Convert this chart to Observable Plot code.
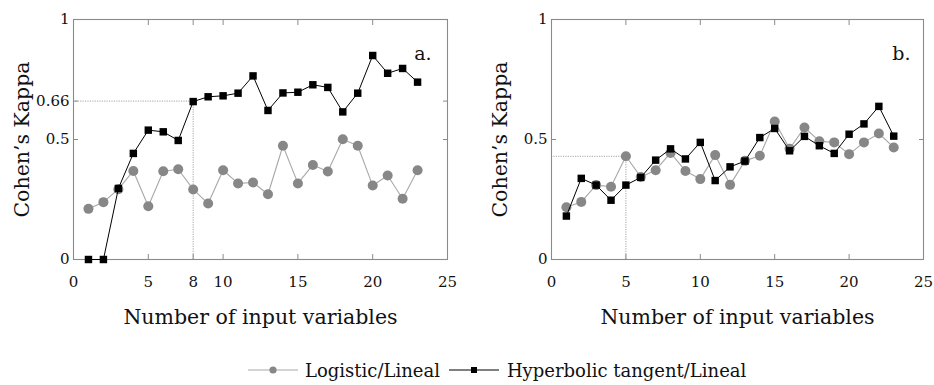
<!DOCTYPE html>
<html>
<head>
<meta charset="utf-8">
<script src="https://cdn.jsdelivr.net/npm/d3@7"></script>
<script src="https://cdn.jsdelivr.net/npm/@observablehq/plot@0.6"></script>
<style>
  html, body { margin: 0; padding: 0; background: #fff; }
  body { width: 934px; height: 385px; overflow: hidden; font-family: "DejaVu Serif", "Liberation Serif", serif; color: #111; }
  #row { display: flex; height: 335px; }
  #legend { display: flex; align-items: center; height: 70px; padding-left: 248px; font-size: 18px; }
  #legend .item { display: flex; align-items: center; }
  #legend svg { display: block; }
</style>
</head>
<body>
<div id="row"></div>
<div id="legend"></div>
<script>
// ---- data ----
const nVars = [1, 2, 3, 4, 5, 6, 7, 8, 9, 10, 11, 12, 13, 14, 15, 16, 17, 18, 19, 20, 21, 22, 23];
const seriesNames = ["Logistic/Lineal", "Hyperbolic tangent/Lineal"];

// panel a.
const logisticA = [0.211, 0.239, 0.293, 0.369, 0.222, 0.368, 0.376, 0.292, 0.233, 0.372, 0.317, 0.321, 0.272, 0.474, 0.317, 0.394, 0.367, 0.501, 0.474, 0.308, 0.350, 0.253, 0.372];
const tanhA     = [0.000, 0.000, 0.296, 0.442, 0.539, 0.532, 0.496, 0.658, 0.678, 0.682, 0.693, 0.765, 0.621, 0.694, 0.697, 0.728, 0.717, 0.615, 0.693, 0.850, 0.776, 0.796, 0.739];

// panel b.
const logisticB = [0.218, 0.240, 0.310, 0.303, 0.430, 0.344, 0.372, 0.444, 0.369, 0.335, 0.435, 0.311, 0.411, 0.432, 0.575, 0.461, 0.550, 0.493, 0.488, 0.439, 0.488, 0.525, 0.467];
const tanhB     = [0.181, 0.338, 0.310, 0.247, 0.310, 0.342, 0.414, 0.461, 0.419, 0.488, 0.329, 0.386, 0.410, 0.508, 0.546, 0.453, 0.513, 0.474, 0.442, 0.522, 0.565, 0.638, 0.514];

// ticks
const xTicksA = [0, 5, 8, 10, 15, 20, 25];
const yTicksA = [0, 0.5, 0.66, 1];
const xTicksB = [0, 5, 10, 15, 20, 25];
const yTicksB = [0, 0.5, 1];

// reference (dotted) guides: [x, y]
const refA = [8, 0.66];
const refB = [5, 0.43];

const panelTags = ["a.", "b."];
const xLabel = "Number of input variables";
const yLabel = "Cohen\u2019s Kappa";

// ---- style ----
const FONT = "DejaVu Serif, Liberation Serif, serif";
const C_LOG = "#878787", C_LOG_LINE = "#a8a8a8", C_TANH = "#000", C_AXIS = "#8a8a8a", C_TEXT = "#111";

function panel(logi, tanh, xTicks, yTicks, ref, tag, width, marginRight, tagDx) {
  const rows = nVars.map((n, i) => ({n, logi: logi[i], tanh: tanh[i]}));
  const fmt = d => String(d);
  return Plot.plot({
    width, height: 335,
    marginLeft: 73, marginRight, marginTop: 19, marginBottom: 76,
    x: {domain: [0, 25]},
    y: {domain: [0, 1]},
    style: {fontFamily: FONT, fontSize: "15px", color: C_TEXT, background: "#fff", overflow: "visible"},
    marks: [
      // dotted guides
      Plot.ruleY([ref[1]], {x1: xTicks[0], x2: ref[0], stroke: "#9a9a9a", strokeWidth: 0.9, strokeDasharray: "1.2,1.2"}),
      Plot.ruleX([ref[0]], {y1: yTicks[0], y2: ref[1], stroke: "#9a9a9a", strokeWidth: 0.9, strokeDasharray: "1.2,1.2"}),
      // inward ticks on all four sides
      Plot.axisX(xTicks, {anchor: "bottom", tickSize: 5, dy: -5, fill: "none", stroke: C_AXIS, label: null}),
      Plot.axisX(xTicks, {anchor: "top", tickSize: 5, dy: 5, fill: "none", stroke: C_AXIS, label: null}),
      Plot.axisY(yTicks, {anchor: "left", tickSize: 5, dx: 5, fill: "none", stroke: C_AXIS, label: null}),
      Plot.axisY(yTicks, {anchor: "right", tickSize: 5, dx: -5, fill: "none", stroke: C_AXIS, label: null}),
      // tick labels
      Plot.axisX(xTicks, {anchor: "bottom", tickSize: 0, tickPadding: 17, tickFormat: fmt, label: null, fontSize: 15}),
      Plot.axisY(yTicks, {anchor: "left", tickSize: 0, tickPadding: 4, tickFormat: fmt, label: null, fontSize: 15}),
      Plot.frame({stroke: C_AXIS, strokeWidth: 1.1}),
      // axis titles
      Plot.text([xLabel], {frameAnchor: "bottom", textAnchor: "middle", lineAnchor: "middle", dy: 58, fontSize: 20.5, fill: C_TEXT}),
      Plot.text([yLabel], {frameAnchor: "left", textAnchor: "middle", lineAnchor: "middle", dx: -51, rotate: -90, fontSize: 20.5, fill: C_TEXT}),
      // panel tag
      Plot.text([tag], {frameAnchor: "top-right", textAnchor: "end", lineAnchor: "middle", dx: tagDx, dy: 34, fontSize: 19, fill: C_TEXT}),
      // series
      Plot.line(rows, {x: "n", y: "logi", stroke: C_LOG_LINE, strokeWidth: 1.1}),
      Plot.dot(rows, {x: "n", y: "logi", r: 5, fill: C_LOG, stroke: "none", symbol: "circle"}),
      Plot.line(rows, {x: "n", y: "tanh", stroke: C_TANH, strokeWidth: 1}),
      Plot.dot(rows, {x: "n", y: "tanh", r: 4.2, fill: C_TANH, stroke: "none", symbol: "square"})
    ]
  });
}

const row = document.getElementById("row");
row.append(panel(logisticA, tanhA, xTicksA, yTicksA, refA, panelTags[0], 478, 31, -16));
row.append(panel(logisticB, tanhB, xTicksB, yTicksB, refB, panelTags[1], 456, 11, -13));

// ---- legend ----
const legend = d3.select("#legend");
function swatch(kind) {
  const svg = legend.append("div").attr("class", "item").append("svg").attr("width", 50).attr("height", 12);
  svg.append("line").attr("x1", 0).attr("x2", 50).attr("y1", 6).attr("y2", 6)
    .attr("stroke", kind === "circle" ? C_LOG_LINE : C_TANH).attr("stroke-width", 1);
  if (kind === "circle") svg.append("circle").attr("cx", 25).attr("cy", 6).attr("r", 3.6).attr("fill", C_LOG);
  else svg.append("rect").attr("x", 22).attr("y", 3).attr("width", 6).attr("height", 6).attr("fill", C_TANH);
}
swatch("circle");
legend.append("span").style("margin-left", "7px").style("margin-right", "9px").text(seriesNames[0]);
swatch("square");
legend.append("span").style("margin-left", "8px").text(seriesNames[1]);
</script>
</body>
</html>
